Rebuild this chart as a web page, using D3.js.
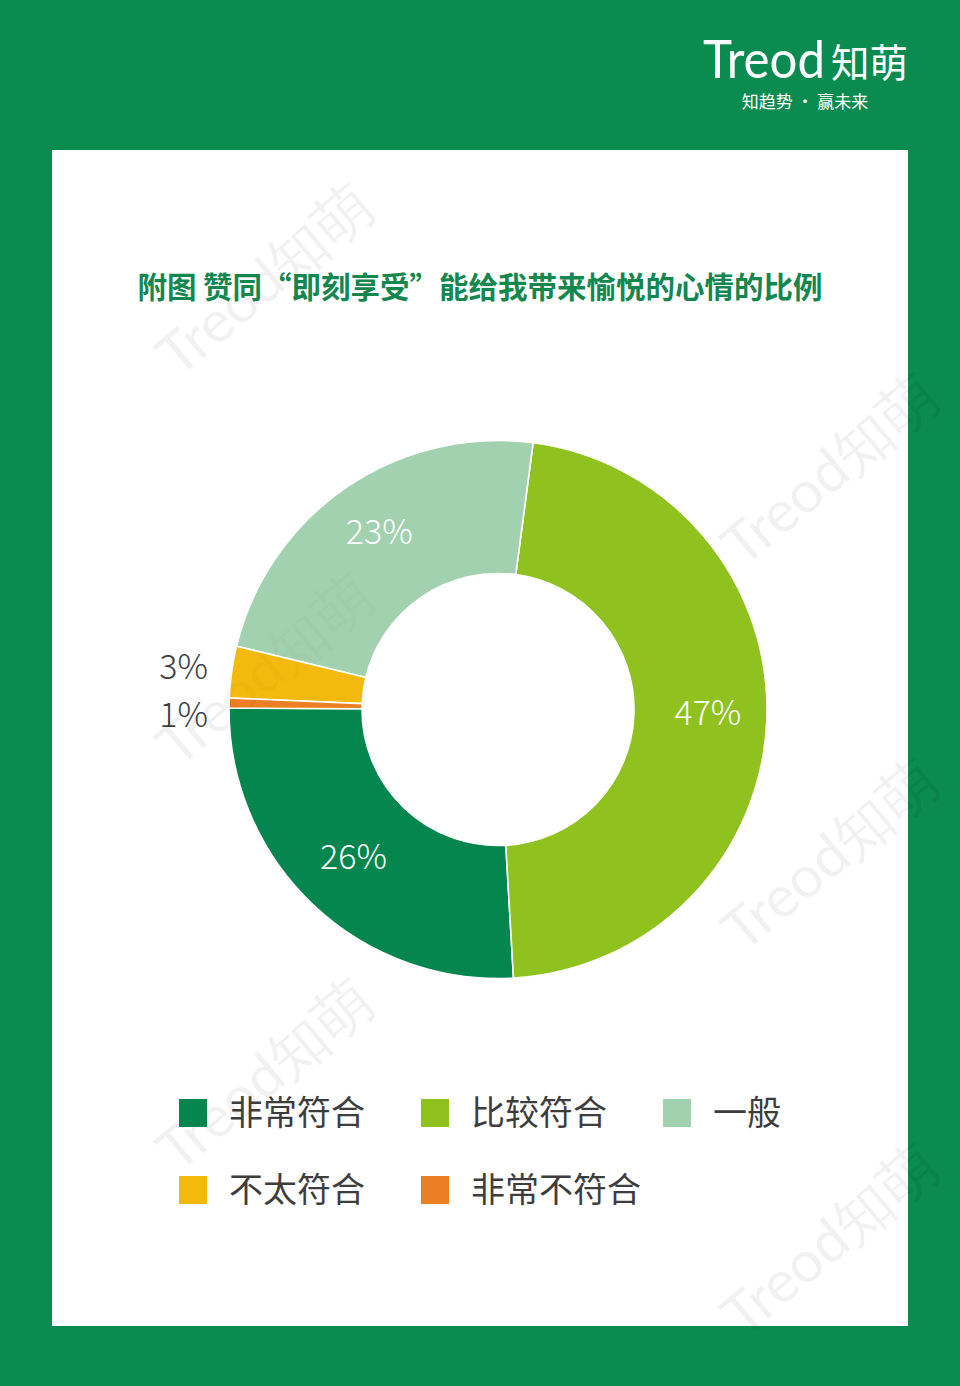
<!DOCTYPE html>
<html><head><meta charset="utf-8">
<script src="https://cdn.jsdelivr.net/npm/d3@7"></script>
<style>html,body{margin:0;padding:0;background:#fff;}svg{display:block;}</style>
</head><body>
<script>
// ---- data ----
const categories = ["非常符合", "比较符合", "一般", "不太符合", "非常不符合"];
const values = [0.260, 0.470, 0.233, 0.031, 0.006];
const colors = ["#06864f", "#8fc21f", "#a2d1b0", "#f3b90c", "#ec7e23"];
const clockwiseOrder = ["比较符合", "非常符合", "非常不符合", "不太符合", "一般"];
const outsideLabels = ["不太符合", "非常不符合"];
const titleText = "附图 赞同“即刻享受”能给我带来愉悦的心情的比例";
const logoMain = "Treod";
const logoCn = "知萌";
const logoSlogan = "知趋势 · 赢未来";

const W = 960, H = 1386;
const svg = d3.select("body").append("svg").attr("width", W).attr("height", H);

// background
svg.append("rect").attr("width", W).attr("height", H).attr("fill", "#0a8b4f");
svg.append("rect").attr("x", 52).attr("y", 150).attr("width", 856).attr("height", 1176).attr("fill", "#ffffff");

// watermarks (very faint)
const wm = [[265, 280], [830, 470], [830, 855], [265, 1075], [830, 1240], [265, 670]];
function drawWatermarks(opacity) {
  const wmg = svg.append("g").attr("pointer-events", "none");
  wm.forEach(([x, y]) => {
    wmg.append("text").attr("transform", `translate(${x},${y}) rotate(-40)`)
      .attr("text-anchor", "middle").attr("dy", "0.35em")
      .attr("font-family", "Lato, sans-serif").attr("font-weight", 400).attr("font-size", 58)
      .attr("fill", "#000").attr("fill-opacity", opacity).text(logoMain + logoCn);
  });
}
drawWatermarks(0.035);

// logo
const logo = svg.append("g");
logo.append("text").attr("x", 703).attr("y", 78).text(logoMain)
  .attr("font-family", "Lato, 'Open Sans', sans-serif").attr("font-weight", 400)
  .attr("font-size", 53).attr("fill", "#fff").attr("textLength", 122).attr("lengthAdjust", "spacingAndGlyphs");
logo.append("text").attr("x", 831).attr("y", 77).text(logoCn)
  .attr("font-family", "'Noto Sans CJK SC', sans-serif").attr("font-weight", 400)
  .attr("font-size", 39).attr("fill", "#fff").attr("textLength", 77).attr("lengthAdjust", "spacingAndGlyphs");
logo.append("text").attr("x", 805).attr("y", 108).text(logoSlogan).attr("text-anchor", "middle")
  .attr("font-family", "'Noto Sans CJK SC', sans-serif").attr("font-size", 17).attr("fill", "#fff");

// title
svg.append("text").attr("x", 480).attr("y", 298).attr("text-anchor", "middle").text(titleText)
  .attr("font-family", "'Noto Sans CJK SC', sans-serif").attr("font-weight", 700)
  .attr("font-size", 29.5).attr("fill", "#13874e");

// donut
const cx = 498, cy = 709.5, R = 269, r0 = 136;
const data = categories.map((c, i) => ({cat: c, value: values[i], color: colors[i]}));
const pie = d3.pie().value(d => d.value)
  .sort((a, b) => clockwiseOrder.indexOf(a.cat) - clockwiseOrder.indexOf(b.cat))
  .startAngle(7.5 * Math.PI / 180).endAngle(7.5 * Math.PI / 180 + 2 * Math.PI);
const arcs = pie(data);
const arc = d3.arc().innerRadius(r0).outerRadius(R);
const g = svg.append("g").attr("transform", `translate(${cx},${cy})`);
g.selectAll("path").data(arcs).join("path")
  .attr("d", arc).attr("fill", d => d.data.color)
  .attr("stroke", "#ffffff").attr("stroke-width", 1.6).attr("stroke-linejoin", "round");

const fmt = d3.format(".0%");
const labelArc = d3.arc().innerRadius(210).outerRadius(210);
const numFont = "'Noto Sans CJK SC', 'Noto Sans', sans-serif";
g.selectAll("text.in").data(arcs.filter(d => !outsideLabels.includes(d.data.cat))).join("text")
  .attr("class", "in")
  .attr("transform", d => `translate(${labelArc.centroid(d)})`)
  .attr("text-anchor", "middle").attr("dy", "0.22em")
  .attr("font-family", numFont).attr("font-weight", 300).attr("font-size", 34)
  .attr("fill", "#ffffff").text(d => fmt(d.data.value));

// outside labels with simple collision avoidance
const outs = arcs.filter(d => outsideLabels.includes(d.data.cat)).map(d => {
  const a = (d.startAngle + d.endAngle) / 2;
  return {d, y: -Math.cos(a) * R};
}).sort((a, b) => a.y - b.y);
for (let i = 1; i < outs.length; i++) {
  if (outs[i].y - outs[i - 1].y < 48) outs[i].y = outs[i - 1].y + 48;
}
g.selectAll("text.out").data(outs).join("text")
  .attr("class", "out")
  .attr("x", -R - 21).attr("y", o => o.y).attr("dy", "0.2em")
  .attr("text-anchor", "end")
  .attr("font-family", numFont).attr("font-weight", 300).attr("font-size", 34)
  .attr("fill", "#404040").text(o => fmt(o.d.data.value));

// legend
const legX = [179, 421, 663], legY = [1113, 1190];
const leg = svg.append("g");
data.forEach((d, i) => {
  const col = i % 3, row = Math.floor(i / 3);
  leg.append("rect").attr("x", legX[col]).attr("y", legY[row] - 14).attr("width", 28).attr("height", 28).attr("fill", d.color);
  leg.append("text").attr("x", legX[col] + 50).attr("y", legY[row]).attr("dy", "0.36em")
    .attr("font-family", "'Noto Sans CJK SC', sans-serif").attr("font-weight", 400)
    .attr("font-size", 34).attr("fill", "#3d3d3d").text(d.cat);
});

// faint watermark over marks
drawWatermarks(0.02);
</script>
</body></html>
